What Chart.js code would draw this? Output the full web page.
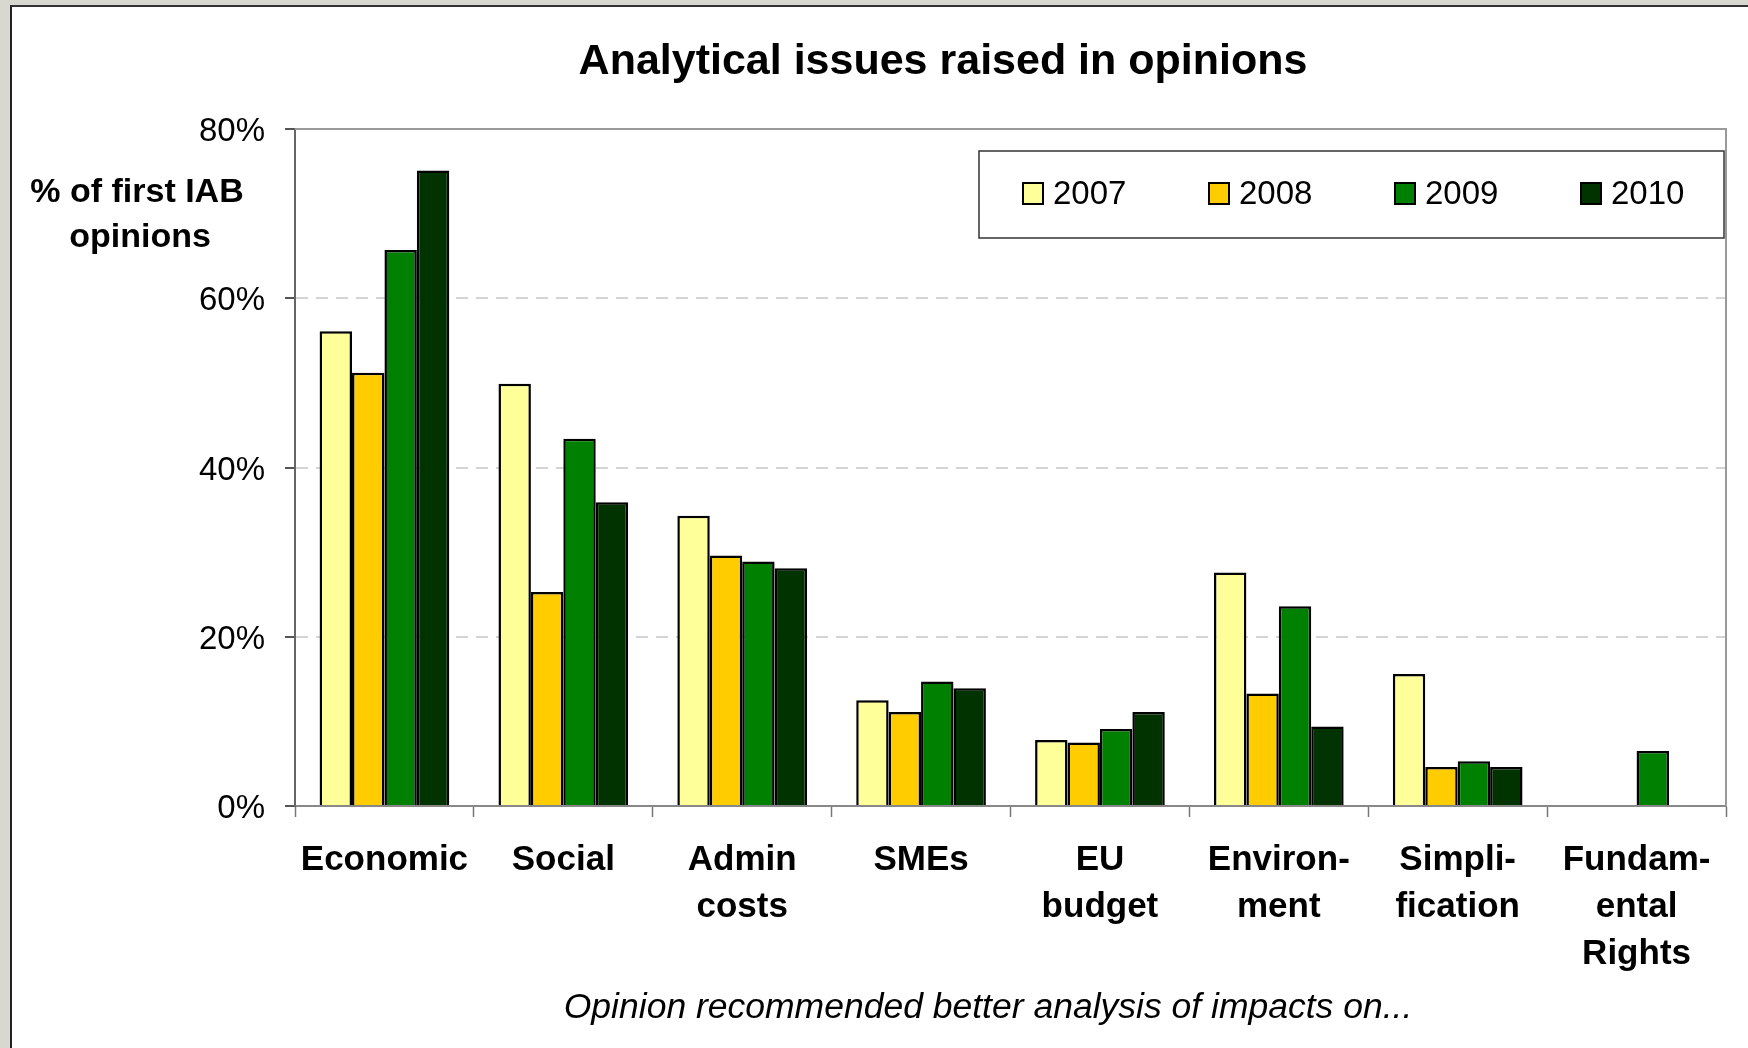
<!DOCTYPE html>
<html>
<head>
<meta charset="utf-8">
<script src="https://cdn.jsdelivr.net/npm/chart.js@4"></script>
<style>
  html, body { margin: 0; padding: 0; }
  body { width: 1748px; height: 1048px; background: #d9d8d0; position: relative; overflow: hidden; }
  #panel { position: absolute; left: 10px; top: 5px; right: 0; bottom: 0; background: #fff;
           border-left: 2px solid #222; border-top: 2px solid #333; }
  #chart { position: absolute; left: 0; top: 0; }
</style>
</head>
<body>
<div id="panel"></div>
<canvas id="chart" width="1748" height="1048"></canvas>
<script>
// datos
const categorias = ['Economic', 'Social', ['Admin', 'costs'], 'SMEs', ['EU', 'budget'],
    ['Environ-', 'ment'], ['Simpli-', 'fication'], ['Fundam-', 'ental', 'Rights']];
const anios = ['2007', '2008', '2009', '2010'];
const v2007 = [56.1, 49.9, 34.3, 12.5, 7.8, 27.6, 15.6, null];
const v2008 = [51.2, 25.3, 29.6, 11.1, 7.5, 13.3, 4.6, null];
const v2009 = [65.7, 43.4, 28.9, 14.7, 9.1, 23.6, 5.3, 6.5];
const v2010 = [75.1, 35.9, 28.1, 13.9, 11.1, 9.4, 4.6, null];
const colores = ['#ffff99', '#ffcc00', '#008000', '#003300'];

const titulo = 'Analytical issues raised in opinions';
const ejeY = ['% of first IAB', 'opinions'];
const pie = 'Opinion recommended better analysis of impacts on...';

const FUENTE = '"Liberation Sans", Arial, sans-serif';

// textos, marco y leyenda dibujados a mano
const extras = {
    id: 'extras',
    afterDraw(chart) {
        const ctx = chart.ctx;
        const area = chart.chartArea;
        ctx.save();

        // marco superior y derecho del area
        ctx.strokeStyle = '#999';
        ctx.lineWidth = 2;
        ctx.beginPath();
        ctx.moveTo(area.left, area.top);
        ctx.lineTo(area.right, area.top);
        ctx.lineTo(area.right, area.bottom);
        ctx.stroke();

        ctx.fillStyle = '#000';
        ctx.textAlign = 'center';
        ctx.textBaseline = 'alphabetic';
        ctx.font = 'bold 43px ' + FUENTE;
        ctx.fillText(titulo, 943, 74);

        ctx.font = 'bold 34px ' + FUENTE;
        ctx.fillText(ejeY[0], 137, 202);
        ctx.fillText(ejeY[1], 140, 247);

        ctx.font = 'italic 35.5px ' + FUENTE;
        ctx.fillText(pie, 988, 1018);

        // leyenda
        ctx.fillStyle = '#fff';
        ctx.fillRect(979, 151, 745, 87);
        ctx.strokeStyle = '#333';
        ctx.lineWidth = 1.5;
        ctx.strokeRect(979, 151, 745, 87);
        ctx.font = '33px ' + FUENTE;
        ctx.textAlign = 'left';
        chart.data.datasets.forEach((ds, i) => {
            const x = 1023 + i * 186;
            ctx.fillStyle = ds.backgroundColor;
            ctx.fillRect(x, 183, 20, 21);
            ctx.strokeStyle = '#000';
            ctx.lineWidth = 2;
            ctx.strokeRect(x, 183, 20, 21);
            ctx.fillStyle = '#000';
            ctx.fillText(ds.label, x + 30, 204);
        });
        ctx.restore();
    }
};

const series = [v2007, v2008, v2009, v2010];

new Chart(document.getElementById('chart'), {
    type: 'bar',
    data: {
        labels: categorias,
        datasets: anios.map((a, i) => ({
            label: a,
            data: series[i],
            backgroundColor: colores[i],
            borderColor: '#000',
            borderWidth: 2.5,
            categoryPercentage: 0.725,
            barPercentage: 1
        }))
    },
    options: {
        responsive: false,
        animation: false,
        layout: { padding: { left: 160, right: 22, top: 129, bottom: 42 } },
        plugins: {
            legend: { display: false },
            title: { display: false },
            tooltip: { enabled: false }
        },
        scales: {
            x: {
                offset: true,
                grid: { offset: true, drawOnChartArea: false, drawTicks: true, tickLength: 11, tickColor: '#777', tickWidth: 1.5 },
                border: { color: '#888', width: 2 },
                ticks: {
                    color: '#000',
                    padding: 20,
                    maxRotation: 0,
                    autoSkip: false,
                    font: { family: FUENTE, size: 35, weight: 'bold', lineHeight: 1.34 }
                },
                afterFit(scale) { scale.height = 200; }
            },
            y: {
                min: 0,
                max: 80,
                ticks: {
                    stepSize: 20,
                    color: '#000',
                    padding: 20,
                    labelOffset: 3,
                    font: { family: FUENTE, size: 33 },
                    callback: v => v + '%'
                },
                grid: {
                    color: ctx => (ctx.tick && (ctx.tick.value === 0 || ctx.tick.value === 80)) ? 'rgba(0,0,0,0)' : '#d4d4d4',
                    lineWidth: 2,
                    tickLength: 10,
                    tickColor: '#555',
                    tickWidth: 2
                },
                border: { color: '#666', width: 2, dash: [12, 8] },
                afterFit(scale) { scale.width = 135; }
            }
        }
    },
    plugins: [extras]
});
</script>
</body>
</html>
